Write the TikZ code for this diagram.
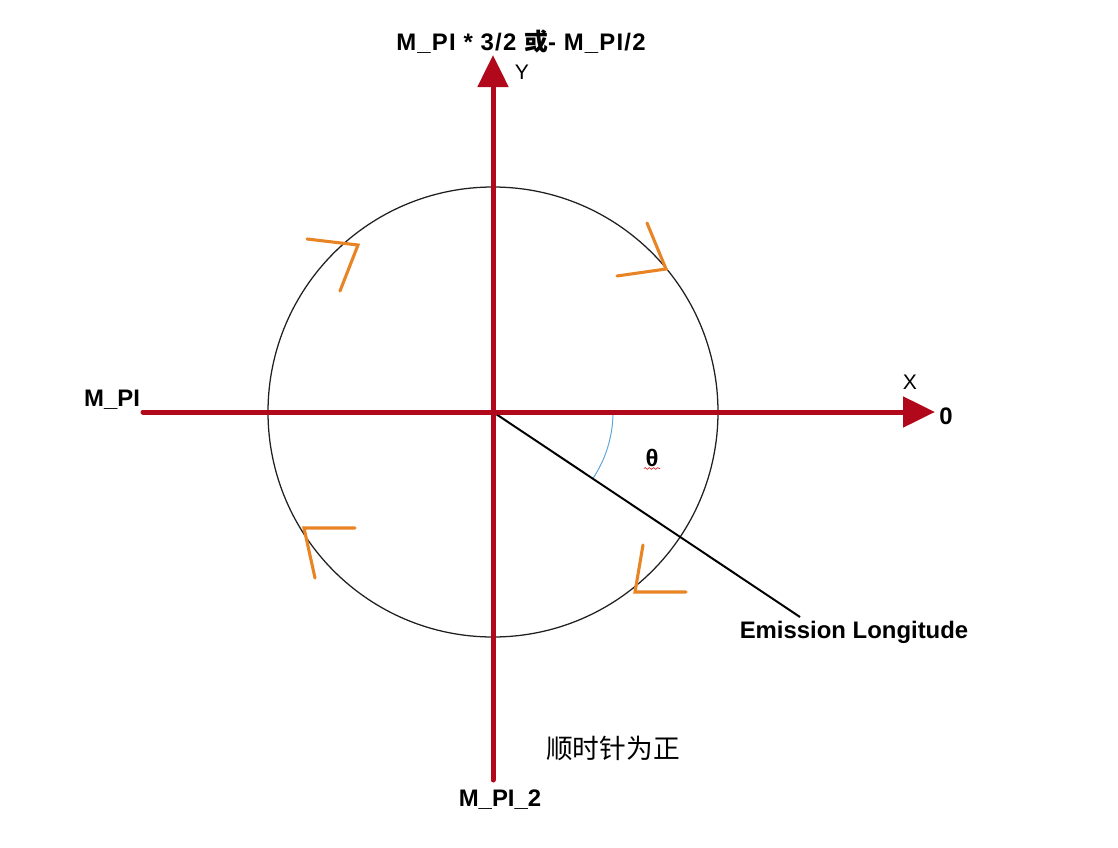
\documentclass[tikz,border=0pt]{standalone}
\usepackage{fontspec}
\setmainfont{Liberation Sans}
\newfontfamily\cjk{Noto Sans CJK SC}
\usetikzlibrary{arrows.meta,positioning,decorations.pathmorphing}
\definecolor{axisred}{RGB}{178,8,28}
\definecolor{dirorange}{RGB}{232,132,36}
\definecolor{angleblue}{RGB}{95,165,215}
\definecolor{wavered}{RGB}{220,50,50}
\tikzset{
  axis/.style={axisred, line width=0.125cm, line cap=round,
    -{Triangle[length=0.8cm, width=0.75cm]}},
  chev/.style={dirorange, line width=2.2pt, line cap=round},
  boldlbl/.style={font=\bfseries\fontsize{17}{19}\selectfont, inner sep=1pt},
  thinlbl/.style={font=\fontsize{15}{17}\selectfont, inner sep=1pt}
}

\begin{document}
\begin{tikzpicture}[x=0.025cm, y=-0.025cm]
    \useasboundingbox (0,0) rectangle (1118,848);
    \coordinate (O) at (493,412);
    \coordinate (xstart) at (143,412);
    \coordinate (xend) at (935,412);
    \coordinate (ystart) at (493,780);
    \coordinate (yend) at (493,55);
    \coordinate (lonEnd) at (800,617);

    % circle and the angle
    \draw[gray!25!black, line width=0.9pt] (O) circle[radius=225];
    \draw[angleblue, line width=0.7pt] (613,412) arc[start angle=0, end angle=34, radius=120];
    \draw[black, line width=1.4pt] (O) -- (lonEnd);

    % axes
    \draw[axis] (xstart) -- (xend);
    \draw[axis] (ystart) -- (yend);

    % direction marks
    \draw[chev] (647,223) -- (666,269) -- (617,276);
    \draw[chev] (307,239) -- (358,245) -- (340,291);
    \draw[chev] (355,528) -- (304,528) -- (315,578);
    \draw[chev] (643,545) -- (635,592) -- (686,592);

    % labels
    \node[boldlbl] (top) at (521,42) {\addfontfeature{LetterSpace=5}M\_PI * 3/2 {\cjk 或}- M\_PI/2};
    \node[thinlbl] (ylbl) at (522,72) {Y};
    \node[thinlbl] (xlbl) at (910,382) {X};
    \node[boldlbl] (zero) at (946,416) {0};
    \node[boldlbl] (mpi) at (112,400) {M\_PI};
    \node[boldlbl] (mpi2) at (500,800) {M\_PI\_2};
    \node[boldlbl] (lon) at (854,632) {Emission Longitude};
    \node[boldlbl] (theta) at (652,458) {θ};
    \draw[wavered, line width=0.5pt, decorate,
          decoration={snake, amplitude=0.6pt, segment length=3pt}]
        (theta.south west) -- (theta.south east);
    \node[font=\cjk\fontsize{19}{21}\selectfont] (cw) at (613,748) {顺时针为正};
\end{tikzpicture}
\end{document}
